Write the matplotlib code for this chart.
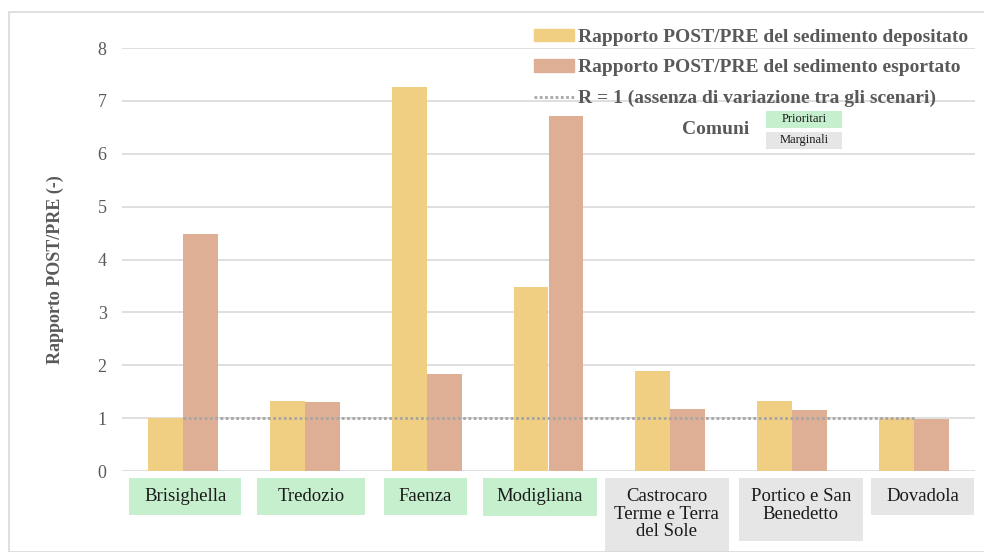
import matplotlib.pyplot as plt
from matplotlib.patches import Rectangle, Patch
from matplotlib.lines import Line2D
from matplotlib.transforms import blended_transform_factory
import numpy as np

SERIF = "Liberation Serif"
plt.rcParams['font.family'] = 'serif'
plt.rcParams['font.serif'] = [SERIF, 'DejaVu Serif']

comuni = ["Brisighella", "Tredozio", "Faenza", "Modigliana",
          "Castrocaro\nTerme e Terra\ndel Sole", "Portico e San\nBenedetto", "Dovadola"]
prioritari = [True, True, True, True, False, False, False]
depositato = [1.00, 1.32, 7.26, 3.48, 1.89, 1.32, 1.00]
esportato = [4.48, 1.30, 1.83, 6.71, 1.17, 1.15, 0.99]
riferimento = 1.0

# label box widths (in category units) and heights (pixels)
box_w = [0.92, 0.89, 0.68, 0.93, 1.02, 1.02, 0.84]
box_dx = [0.02, 0.05, -0.01, -0.07, -0.03, 0.07, 0.07]
box_h = [37, 37, 37, 38, 80, 63, 37]

C_DEP = "#F0CF82"
C_ESP = "#DEAF95"
C_PRI = "#C6EFCE"
C_MAR = "#E7E6E6"
GREY = "#595959"
DOTS = (0, (1, 0.9))

fig = plt.figure(figsize=(9.84, 5.52), dpi=100)
W, H = 984, 552
fig.patches.append(Rectangle((9 / W, 0), 1.0, 1 - 12 / H, transform=fig.transFigure,
                             fill=False, edgecolor="#D9D9D9", linewidth=1.2))

ax = fig.add_axes([122 / W, 1 - 471 / H, (975 - 122) / W, (471 - 48) / H])
x = np.arange(len(comuni))
bw = 0.287
ax.bar(x - bw / 2, depositato, bw, color=C_DEP, zorder=2)
ax.bar(x + bw / 2, esportato, bw, color=C_ESP, zorder=2)
ax.plot([x[0], x[-1]], [riferimento, riferimento], linestyle=DOTS,
        color="#A6A6A6", linewidth=2.0, zorder=3)

ax.set_xlim(-0.5, len(comuni) - 0.5)
ax.set_ylim(0, 8)
ax.set_yticks(range(0, 9))
ax.set_yticklabels([str(v) for v in range(0, 9)], family=SERIF)
ax.yaxis.grid(True, color="#D9D9D9", linewidth=1.2, zorder=0)
ax.set_axisbelow(True)
for s in ax.spines.values():
    s.set_visible(False)
ax.tick_params(axis="y", length=0, pad=11, labelsize=13, labelcolor=GREY)
ax.tick_params(axis="x", length=0, labelbottom=False)
ax.set_ylabel("Rapporto POST/PRE (-)", family=SERIF, fontsize=13, fontweight="bold",
              color=GREY)
ax.yaxis.set_label_coords((64 - 122) / 853, (471 - 270) / 423)

# category labels drawn inside coloured boxes
tr = blended_transform_factory(ax.transData, fig.transFigure)
top = 1 - 478 / H
for i, name in enumerate(comuni):
    cx = x[i] + box_dx[i]
    col = C_PRI if prioritari[i] else C_MAR
    ax.add_patch(Rectangle((cx - box_w[i] / 2, top - box_h[i] / H), box_w[i], box_h[i] / H,
                           transform=tr, facecolor=col, edgecolor="none", clip_on=False))
    ax.text(cx, top - 10 / H, name, transform=tr, ha="center", va="top", family=SERIF,
            fontsize=13.5, color="#1a1a1a", linespacing=1.05, clip_on=False)

handles = [Patch(color=C_DEP), Patch(color=C_ESP),
           Line2D([], [], linestyle=DOTS, color="#A6A6A6", linewidth=2.0)]
labels = ["Rapporto POST/PRE del sedimento depositato",
          "Rapporto POST/PRE del sedimento esportato",
          "R = 1 (assenza di variazione tra gli scenari)"]
leg = fig.legend(handles, labels, loc="upper left", bbox_to_anchor=(524 / W, 1 - 19 / H),
                 frameon=False, prop={"family": SERIF, "size": 14, "weight": "bold"},
                 handlelength=2.05, handleheight=0.6, handletextpad=0.25,
                 labelspacing=0.70, borderpad=0)
for t in leg.get_texts():
    t.set_color(GREY)

fig.text(716 / W, 1 - 130 / H, "Comuni", ha="center", va="center", family=SERIF,
         fontsize=14, fontweight="bold", color=GREY)
for y0, lab, col in [(111, "Prioritari", C_PRI), (132, "Marginali", C_MAR)]:
    fig.patches.append(Rectangle((766 / W, 1 - (y0 + 17) / H), 76 / W, 17 / H,
                                 transform=fig.transFigure, facecolor=col, edgecolor="none"))
    fig.text(804 / W, 1 - (y0 + 8.5) / H, lab, ha="center", va="center", family=SERIF,
             fontsize=9, color="#1a1a1a")

fig.savefig("out.png", dpi=100)
